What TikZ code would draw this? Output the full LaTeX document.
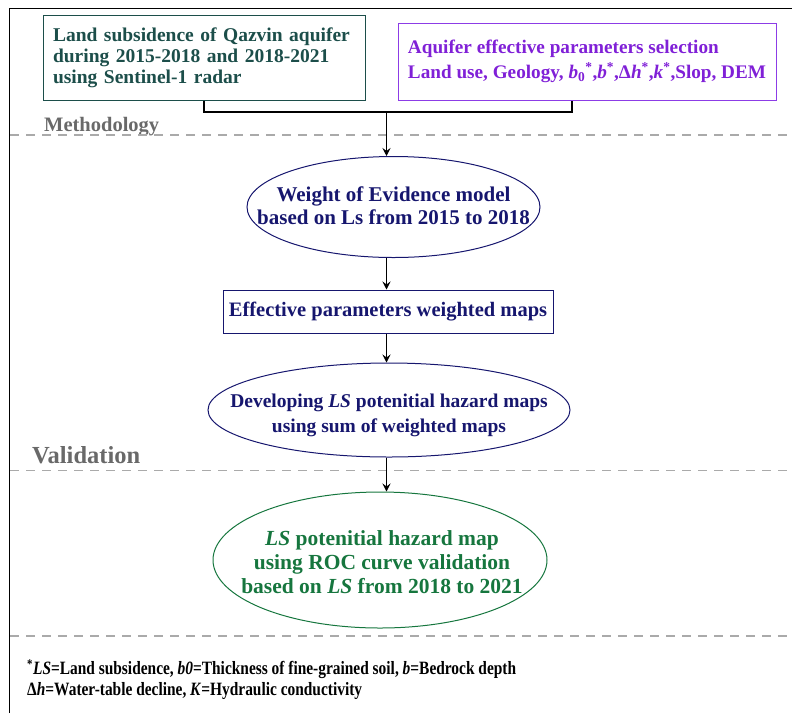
\documentclass[tikz,border=0pt]{standalone}
\usepackage{fontspec}
\setmainfont{Liberation Serif}
\newfontfamily\condfont{Liberation Serif}[FakeStretch=0.82]
\usetikzlibrary{shapes.geometric,arrows.meta}
\definecolor{tealc}{RGB}{28,78,74}
\definecolor{purpc}{RGB}{128,32,215}
\definecolor{purpb}{RGB}{140,60,230}
\definecolor{navyc}{RGB}{22,22,110}
\definecolor{greenc}{RGB}{22,118,62}
\definecolor{labgray}{RGB}{105,105,105}
\definecolor{dashgray}{RGB}{170,170,170}
\tikzset{
  arr/.style={draw=black,line width=0.9pt,-{Stealth[length=8pt,width=8pt,inset=3pt]}},
  conn/.style={draw=black,line width=1.2pt},
  sep/.style={draw=dashgray,line width=1.2pt,dash pattern=on 9pt off 7pt},
  lab/.style={text=labgray,anchor=base west,inner sep=0pt},
  ell/.style={ellipse,draw,line width=1pt,inner sep=0pt},
  etext/.style={inner sep=0pt,align=center},
}
\begin{document}
\begin{tikzpicture}[x=1pt,y=-1pt]
\useasboundingbox (0,0) rectangle (792,713);
\draw[line width=1.6pt] (9.5,713) -- (9.5,8.5) -- (792,8.5);
% top boxes
\node[draw=tealc,line width=1pt,text=tealc,minimum width=322pt,minimum height=85pt,
  text width=302pt,inner xsep=10pt,inner ysep=0pt,align=left,font=\bfseries\fontsize{19.5}{21}\selectfont]
  (L) at (204,57.5) {\rule{0pt}{4pt}Land subsidence of Qazvin aquifer\\during 2015-2018 and 2018-2021\\using Sentinel-1 radar};
\node[draw=purpb,line width=1pt,text=purpc,minimum width=378pt,minimum height=77pt,
  inner xsep=6pt,inner ysep=0pt,align=left,font=\bfseries\fontsize{19.2}{25}\selectfont]
  (R) at (587,61.5) {Aquifer effective parameters selection\\Land use, Geology, \textit{b}\textsubscript{0}\textsuperscript{*},\textit{b}\textsuperscript{*},Δ\textit{h}\textsuperscript{*},\textit{k}\textsuperscript{*},Slop, DEM};
\coordinate (j) at (386.5,112);
\coordinate (rj) at (572,112);
\draw[conn] (L.south) |- (rj) -- (rj |- R.south);
% labels and separators
\node[lab,font=\bfseries\fontsize{20.5}{22}\selectfont] (m) at (44,131) {Methodology};
\coordinate (s1a) at (10,135); \coordinate (s1b) at (792,135);
\draw[sep] (s1a) -- (s1b);
\node[lab,font=\bfseries\fontsize{24.5}{26}\selectfont] (v) at (32,463) {Validation};
\coordinate (s2a) at (10,470.5); \coordinate (s2b) at (792,470.5);
\draw[sep] (s2a) -- (s2b);
\coordinate (s3a) at (10,636); \coordinate (s3b) at (792,636);
\draw[sep] (s3a) -- (s3b);
% flow
\node[ell,draw=navyc,minimum width=293pt,minimum height=101pt] (E1) at (393.5,207) {};
\node[etext,text=navyc,font=\bfseries\fontsize{21}{23}\selectfont] (T1) at (393.5,206)
  {Weight of Evidence model\\based on Ls from 2015 to 2018};
\node[draw=navyc,line width=1pt,text=navyc,minimum width=330pt,minimum height=43pt,inner sep=0pt,
  font=\bfseries\fontsize{20.5}{22}\selectfont] (B) at (388,311.5)
  {Effective parameters weighted maps};
\node[ell,draw=navyc,minimum width=362pt,minimum height=94pt] (E2) at (389,410) {};
\node[etext,text=navyc,font=\bfseries\fontsize{19.5}{25}\selectfont] (T2) at (389,415)
  {Developing \textit{LS} potenitial hazard maps\\using sum of weighted maps};
\node[ell,draw=greenc,minimum width=334pt,minimum height=136pt] (E3) at (380,560) {};
\node[etext,text=greenc,font=\bfseries\fontsize{21.5}{24}\selectfont] (T3) at (382,562)
  {\textit{LS} potenitial hazard map\\using ROC curve validation\\based on \textit{LS} from 2018 to 2021};
\draw[arr] (j) -- (j |- E1.north);
\draw[arr] (j |- E1.south) -- (j |- B.north);
\draw[arr] (j |- B.south) -- (j |- E2.north);
\draw[arr] (j |- E2.south) -- (j |- E3.north);
% footnote
\node[anchor=base west,inner sep=0pt,align=left,font=\condfont\bfseries\fontsize{18.8}{20.5}\selectfont] (fn) at (27,695)
  {\textsuperscript{*}\textit{LS}=Land subsidence, \textit{b0}=Thickness of fine-grained soil, \textit{b}=Bedrock depth\\Δ\textit{h}=Water-table decline, \textit{K}=Hydraulic conductivity};
\end{tikzpicture}
\end{document}
